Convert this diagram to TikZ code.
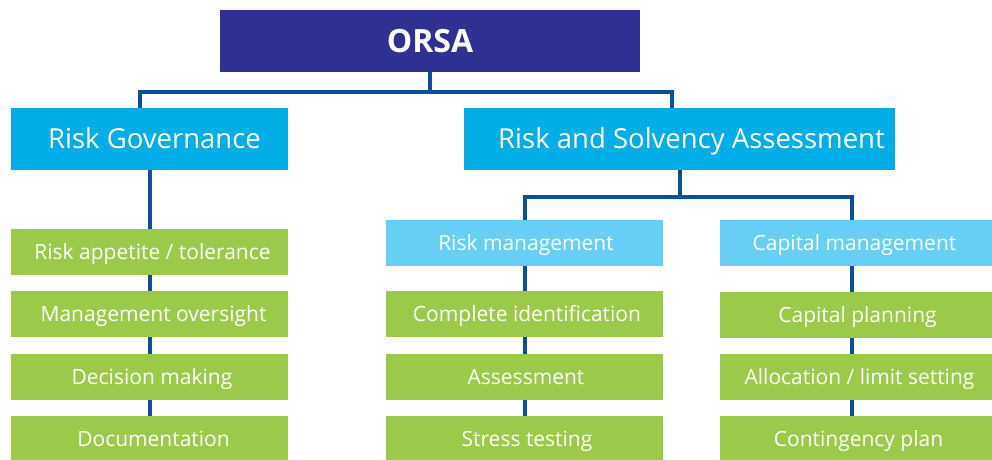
\documentclass[tikz,border=0pt]{standalone}
\usepackage{fontspec}
\setmainfont{Open Sans}
\usetikzlibrary{backgrounds}
\definecolor{orsablue}{RGB}{46,49,146}
\definecolor{headcyan}{RGB}{0,173,230}
\definecolor{subcyan}{RGB}{103,206,245}
\definecolor{boxgreen}{RGB}{155,201,74}
\definecolor{linkblue}{RGB}{12,78,152}
\newcommand{\pushr}[1]{\hspace*{#1pt}}
\tikzset{
  box/.style={rectangle, inner sep=0pt, text=white, anchor=center},
  topbox/.style={box, fill=orsablue, minimum width=420pt, minimum height=62pt, text height=22.8pt, text depth=0pt, font=\fontsize{32}{36}\selectfont\bfseries},
  headbox/.style={box, fill=headcyan, minimum height=62pt, text height=19.6pt, text depth=0pt, font=\fontsize{27.5}{32}\selectfont},
  subbox/.style={box, fill=subcyan, minimum width=277pt, minimum height=46pt, text height=15pt, text depth=0pt, font=\fontsize{21}{25}\selectfont},
  itembox/.style={box, fill=boxgreen, minimum width=277pt, minimum height=46pt, text height=15pt, text depth=0pt, font=\fontsize{21}{25}\selectfont},
  conn/.style={draw=linkblue, line width=4pt}
}
\begin{document}
\begin{tikzpicture}[x=1pt,y=-1pt]
\useasboundingbox (0,0) rectangle (992,459);
\node[topbox] (orsa) at (430,41) {ORSA};
\node[headbox, minimum width=277pt] (rg) at (149.5,139) {\pushr{10}Risk Governance};
\node[headbox, minimum width=431pt] (rsa) at (679.5,139) {\pushr{24}Risk and Solvency Assessment};
% left column
\node[itembox] (l1) at (149.5,252) {\pushr{6}Risk appetite / tolerance};
\node[itembox] (l2) at (149.5,314) {\pushr{8}Management oversight};
\node[itembox] (l3) at (149.5,377) {\pushr{5}Decision making};
\node[itembox] (l4) at (149.5,439) {\pushr{8}Documentation};
% middle column
\node[subbox] (rm) at (524.5,243) {\pushr{3}Risk management};
\node[itembox] (m1) at (524.5,314) {\pushr{5}Complete identification};
\node[itembox] (m2) at (524.5,377) {\pushr{3}Assessment};
\node[itembox] (m3) at (524.5,439) {\pushr{5}Stress testing};
% right column
\node[subbox] (cm) at (858.5,243) {\hspace*{-8pt}Capital management};
\node[itembox] (r1) at (858.5,315) {\hspace*{-2pt}Capital planning};
\node[itembox] (r2) at (858.5,377) {\pushr{2}Allocation / limit setting};
\node[itembox] (r3) at (858.5,439) {Contingency plan};
\coordinate (j1) at (430,92);
\coordinate (j2) at (680,197);
\begin{scope}[on background layer]
\draw[conn] (orsa.south) -- (j1);
\draw[conn] ([xshift=-9.5pt]rg.north) |- (j1) -| ([xshift=-7.5pt]rsa.north);
\draw[conn] ([xshift=0.5pt]rsa.south) -- (j2);
\draw[conn] (rm.north) |- (j2) -| ([xshift=-6.5pt]cm.north);
\draw[conn] (rg.south) -- (l4.center);
\draw[conn] (rm.south) -- (m3.center);
\draw[conn] ([xshift=-6.5pt]cm.south) -- ([xshift=-6.5pt]r3.center);
\end{scope}
\end{tikzpicture}
\end{document}
